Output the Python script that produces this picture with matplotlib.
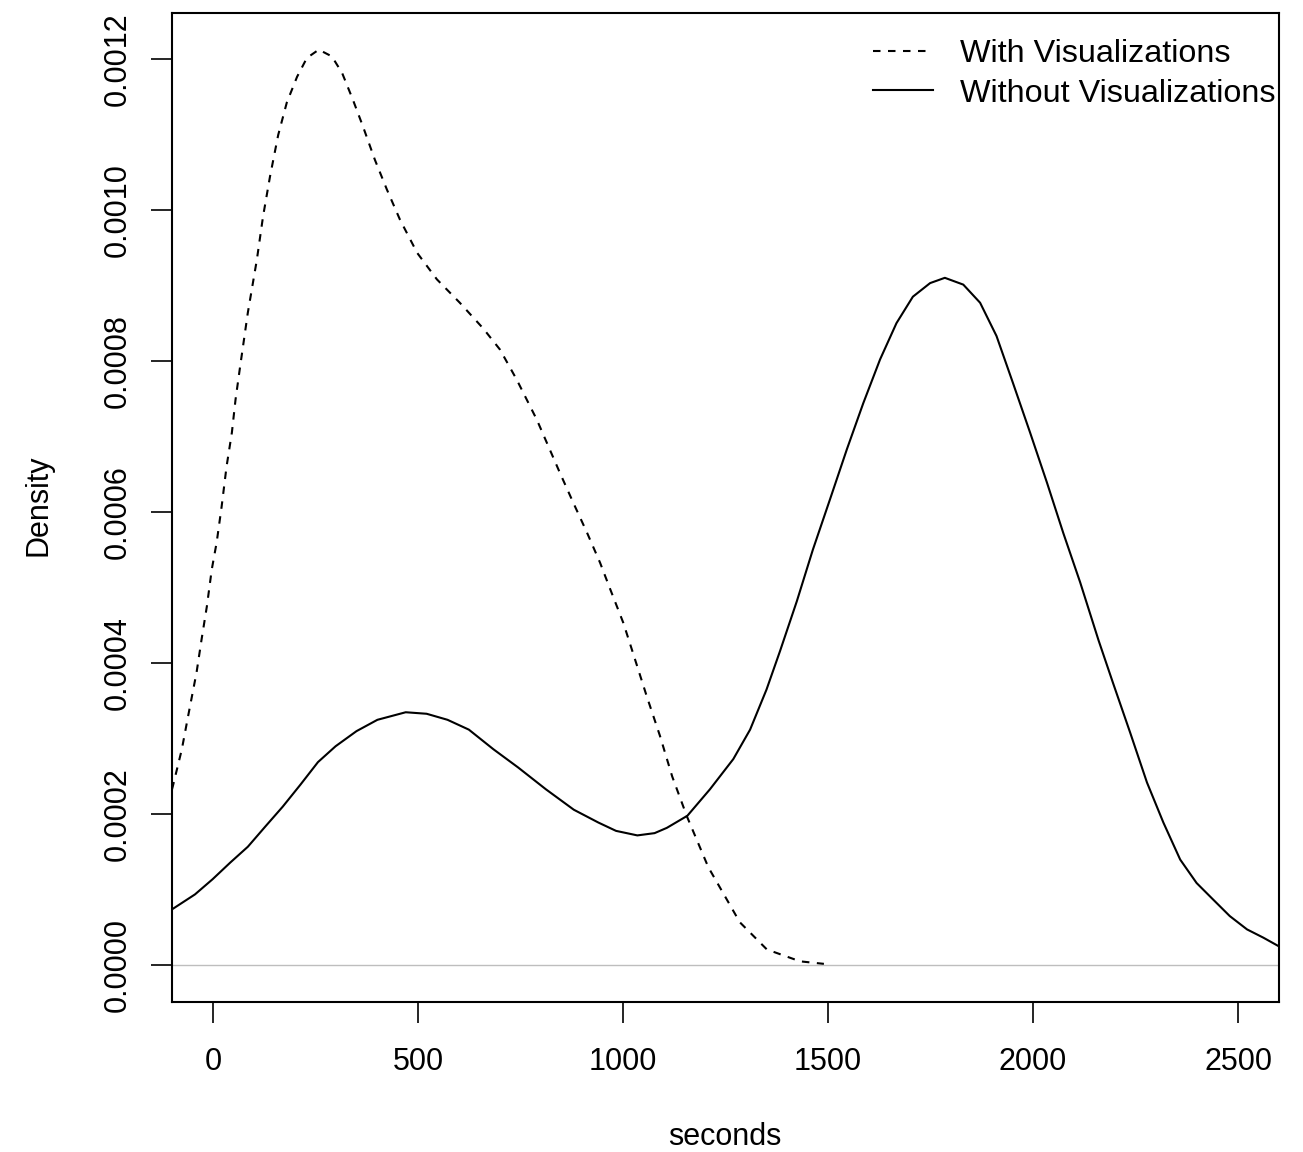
import numpy as np
import matplotlib
matplotlib.use('Agg')
import matplotlib.pyplot as plt

# density estimates (seconds, density)
with_x = [-100, -98, -76, -61, -40, -28, -15, -3, 9, 21, 33, 46, 55, 66, 85, 107,
          122, 139, 159, 180, 205, 229, 258, 290, 315, 341, 366, 395, 424, 456,
          498, 546, 602, 659, 700, 741, 790, 814, 846, 879, 912, 944, 968, 1001,
          1024, 1058, 1090, 1120, 1156, 1208, 1285, 1351, 1432, 1490]
with_y = [0.000233, 0.000237, 0.000286, 0.000329, 0.000388, 0.000431, 0.000475,
          0.000524, 0.00056, 0.000607, 0.00066, 0.000705, 0.000749, 0.000792,
          0.000864, 0.000934, 0.000991, 0.001044, 0.001099, 0.001142, 0.001176,
          0.001201, 0.001212, 0.001203, 0.001181, 0.001146, 0.00111, 0.001066,
          0.001027, 0.000987, 0.000943, 0.000908, 0.000877, 0.000843, 0.000815,
          0.000775, 0.000722, 0.000692, 0.000652, 0.000612, 0.000573, 0.000533,
          0.000499, 0.000453, 0.000414, 0.000356, 0.000304, 0.00025, 0.000197,
          0.00013, 0.000057, 0.000021, 0.0000053, 0.000002]

without_x = [-100, -44, -1, 42, 85, 128, 170, 213, 256, 299, 350, 401, 470, 521,
             572, 624, 684, 744, 812, 880, 940, 983, 1035, 1077, 1107, 1157, 1212,
             1269, 1310, 1350, 1383, 1424, 1463, 1505, 1546, 1586, 1627, 1667,
             1707, 1749, 1785, 1830, 1871, 1911, 1951, 1993, 2034, 2074, 2115,
             2160, 2195, 2237, 2278, 2318, 2359, 2399, 2439, 2480, 2522, 2562, 2600]
without_y = [0.0000741, 0.0000939, 0.000114, 0.000136, 0.000157, 0.000184, 0.00021,
             0.000239, 0.000269, 0.00029, 0.00031, 0.000325, 0.000335, 0.000333,
             0.000325, 0.000312, 0.000286, 0.000262, 0.000233, 0.000206, 0.000189,
             0.000178, 0.000172, 0.000175, 0.000182, 0.000198, 0.000233, 0.000273,
             0.000312, 0.000365, 0.000416, 0.000482, 0.00055, 0.000617, 0.000683,
             0.000744, 0.000802, 0.00085, 0.000885, 0.000903, 0.00091, 0.000901,
             0.000877, 0.000833, 0.000771, 0.000705, 0.000639, 0.000572, 0.000507,
             0.00043, 0.000374, 0.000308, 0.000242, 0.000189, 0.00014, 0.000109,
             0.0000873, 0.0000652, 0.0000476, 0.0000366, 0.0000251]

xticks = [0, 500, 1000, 1500, 2000, 2500]
yticks = [0.0, 0.0002, 0.0004, 0.0006, 0.0008, 0.0010, 0.0012]

plt.rcParams['font.family'] = ['Liberation Sans', 'DejaVu Sans']
fontsize = 22

fig = plt.figure(figsize=(13.03, 11.52), dpi=100)
ax = fig.add_axes([172/1303., 1 - 1002/1152., (1279 - 172)/1303., (1002 - 13)/1152.])

ax.axhline(0, color='#bebebe', lw=1.0, zorder=1)
ax.plot(with_x, with_y, color='black', lw=1.5, linestyle=(0, (3.6, 3.6)),
        label='With Visualizations', zorder=3)
ax.plot(without_x, without_y, color='black', lw=1.5, label='Without Visualizations', zorder=3)

ax.set_xlim(-100, 2600)
ax.set_ylim(-0.0000485, 0.0012605)

for s in ax.spines.values():
    s.set_linewidth(1.5)

ax.set_xticks(xticks)
ax.set_xticklabels([str(t) for t in xticks])
ax.set_yticks(yticks)
ax.set_yticklabels(['%.4f' % t for t in yticks], rotation=90, va='center')
ax.tick_params(axis='both', direction='out', length=15, width=1.2,
               labelsize=fontsize, color='black')
ax.tick_params(axis='x', pad=17.5)
ax.tick_params(axis='y', pad=13.5)

# axis titles placed in figure pixels
fig.text(725/1303., 1 - 1137/1152., 'seconds', fontsize=fontsize, ha='center', va='center')
fig.text(38/1303., 1 - 505/1152., 'Density', fontsize=fontsize, ha='center', va='center',
         rotation=90)

leg = ax.legend(loc='upper left', bbox_to_anchor=(873/1303., 1 - 39/1152.),
                bbox_transform=fig.transFigure, frameon=False, fontsize=23.3,
                handlelength=1.85, handletextpad=0.83, labelspacing=0.3,
                borderpad=0, borderaxespad=0)

fig.savefig('out.png', dpi=100)
